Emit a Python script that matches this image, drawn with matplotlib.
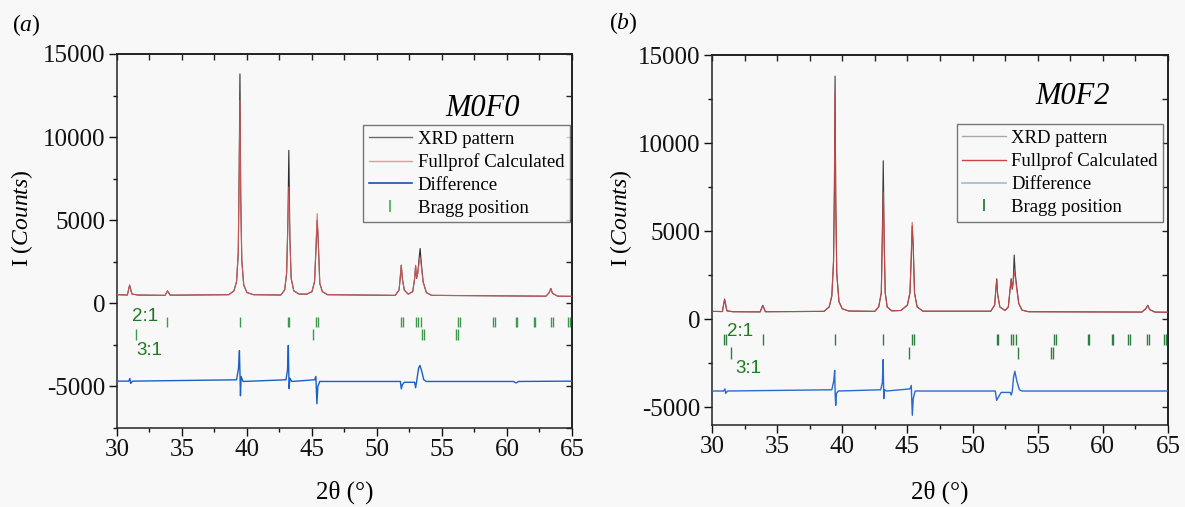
import matplotlib
matplotlib.use('Agg')
import matplotlib.pyplot as plt
from matplotlib.ticker import MultipleLocator, NullFormatter
from matplotlib.lines import Line2D

plt.rcParams['font.family'] = ['Liberation Serif', 'DejaVu Serif']
plt.rcParams['mathtext.fontset'] = 'custom'
plt.rcParams['mathtext.rm'] = 'Liberation Serif'
plt.rcParams['mathtext.it'] = 'Liberation Serif:italic'
plt.rcParams['axes.unicode_minus'] = False

# ---------------- data: panel (a) M0F0 ----------------
a_obs_x = [30.0, 30.8, 30.97, 31.15, 31.6, 33.7, 33.89, 34.1, 38.6, 39.0, 39.2, 39.33, 39.40,
           39.46, 39.52, 39.6, 39.75, 40.0, 40.5, 42.6, 42.9, 43.05, 43.15, 43.22, 43.3, 43.4,
           43.6, 44.0, 44.6, 45.0, 45.2, 45.32, 45.40, 45.48, 45.6, 45.8, 46.2, 51.4, 51.7,
           51.82, 51.87, 51.95, 52.1, 52.4, 52.75, 52.9, 52.97, 53.05, 53.15, 53.25, 53.32,
           53.4, 53.55, 53.8, 54.2, 63.0, 63.25, 63.37, 63.5, 63.9, 65.0]
a_obs_y = [520, 500, 1100, 560, 500, 480, 750, 490, 520, 750, 1300, 3000, 8000,
           13800, 6500, 2600, 1100, 650, 520, 500, 800, 1800, 5000, 9200, 4000, 1500,
           750, 560, 550, 700, 1300, 3500, 5000, 3800, 1200, 700, 520, 480, 800,
           1800, 2300, 1500, 800, 550, 700, 1500, 2250, 1500, 1900, 2800, 3300,
           2500, 1300, 650, 480, 430, 650, 900, 600, 430, 420]
a_calc_x = a_obs_x
a_calc_y = [520, 500, 1080, 560, 500, 480, 740, 490, 520, 760, 1350, 3100, 7900,
            12200, 6300, 2600, 1100, 650, 520, 500, 820, 1850, 4800, 7000, 3900, 1500,
            760, 560, 550, 720, 1350, 3700, 5400, 3700, 1200, 700, 520, 480, 820,
            1900, 2250, 1450, 800, 550, 720, 1550, 2300, 1550, 1850, 2500, 2700,
            2300, 1250, 650, 480, 430, 660, 880, 600, 430, 420]
a_diff_x = [30.0, 30.9, 31.0, 31.05, 31.2, 39.2, 39.35, 39.42, 39.46, 39.5, 39.55, 39.7,
            43.0, 43.12, 43.18, 43.24, 43.3, 43.45, 45.2, 45.3, 45.38, 45.45, 45.6, 51.8,
            51.87, 51.95, 52.1, 52.9, 52.97, 53.05, 53.2, 53.3, 53.45, 53.6, 53.8, 60.5,
            60.7, 60.9, 65.0]
a_diff_y = [-4680, -4680, -4520, -4820, -4680, -4600, -3900, -2850, -4200, -5560, -4400, -4700,
            -4600, -4000, -2530, -5120, -4500, -4700, -4600, -4400, -6040, -5000, -4700, -4700,
            -5140, -4900, -4750, -4750, -5080, -4700, -3900, -3735, -4100, -4600, -4700, -4700,
            -4790, -4700, -4680]
a_bragg_21 = [33.87, 39.46, 43.12, 43.26, 45.34, 45.46, 51.88, 52.0, 52.98, 53.15, 53.38,
              56.26, 56.42, 58.93, 59.04, 60.68, 60.77, 62.06, 62.15, 63.37, 63.52, 64.72, 64.86]
a_bragg_31 = [31.45, 45.1, 53.48, 53.63, 56.04, 56.2]

# ---------------- data: panel (b) M0F2 ----------------
b_obs_x = [30.0, 30.8, 30.97, 31.15, 31.6, 33.7, 33.9, 34.1, 38.6, 39.0, 39.2, 39.33, 39.40,
           39.45, 39.5, 39.58, 39.75, 40.0, 40.5, 42.5, 42.8, 43.0, 43.08, 43.15, 43.22, 43.3,
           43.45, 43.8, 44.5, 45.0, 45.2, 45.3, 45.37, 45.45, 45.55, 45.75, 46.2, 51.4, 51.7,
           51.8, 51.86, 51.93, 52.1, 52.5, 52.75, 52.9, 52.97, 53.05, 53.12, 53.2, 53.28,
           53.4, 53.55, 53.8, 54.3, 63.0, 63.3, 63.45, 63.6, 64.0, 65.0]
b_obs_y = [450, 440, 1150, 480, 430, 420, 800, 430, 450, 700, 1300, 3200, 7500,
           13800, 7000, 2600, 1000, 600, 470, 450, 700, 1500, 4900, 9000, 4500, 1500,
           700, 480, 500, 800, 1500, 3500, 5300, 4200, 1500, 700, 460, 460, 800,
           1800, 2300, 1400, 700, 500, 700, 1800, 2300, 1700, 2100, 3650, 2600,
           1800, 900, 520, 430, 410, 600, 800, 550, 410, 400]
b_calc_x = b_obs_x
b_calc_y = [450, 440, 1100, 480, 430, 420, 780, 430, 450, 720, 1350, 3300, 7600,
            12900, 6800, 2600, 1000, 600, 470, 450, 720, 1550, 4700, 7230, 4300, 1500,
            700, 480, 500, 820, 1550, 3700, 5500, 4000, 1450, 700, 460, 460, 820,
            1750, 2200, 1400, 700, 500, 720, 1850, 2300, 1750, 2050, 2700, 2400,
            1700, 880, 520, 430, 410, 610, 780, 550, 410, 400]
b_diff_x = [30.0, 30.9, 31.0, 31.05, 31.2, 39.2, 39.35, 39.42, 39.46, 39.5, 39.56, 39.7,
            42.95, 43.08, 43.14, 43.19, 43.25, 43.4, 45.2, 45.3, 45.38, 45.45, 45.6, 51.75,
            51.85, 52.0, 52.2, 52.9, 52.97, 53.05, 53.15, 53.25, 53.4, 53.6, 53.8, 65.0]
b_diff_y = [-4070, -4070, -3950, -4200, -4070, -4000, -3500, -2900, -4300, -4885, -4200, -4070,
            -4000, -3600, -2290, -4500, -4000, -4070, -3950, -3760, -5450, -4500, -4070, -4070,
            -4600, -4400, -4150, -4150, -4300, -4100, -3300, -2950, -3500, -4000, -4070, -4070]
b_bragg_21 = [30.92, 31.05, 33.9, 39.45, 43.14, 45.39, 45.5, 51.9, 51.98, 52.98, 53.1, 53.3,
              56.22, 56.38, 58.84, 58.97, 60.72, 60.82, 61.97, 62.08, 63.42, 63.58, 64.72, 64.83]
b_bragg_31 = [31.44, 45.15, 53.51, 56.05, 56.17]

legend_labels = ['XRD pattern', 'Fullprof Calculated', 'Difference', 'Bragg position']
x_ticks = [30, 35, 40, 45, 50, 55, 60, 65]
a_y_ticks = [-5000, 0, 5000, 10000, 15000]
b_y_ticks = [-5000, 0, 5000, 10000, 15000]

BG = '#f8f8f8'
fig = plt.figure(figsize=(11.85, 5.07), dpi=100, facecolor=BG)
ax_a = fig.add_axes([0.0987, 0.1558, 0.3840, 0.7377])
ax_b = fig.add_axes([0.6008, 0.1617, 0.3848, 0.7298])


def panel(ax, ox, oy, cx, cy, dx, dy, br21, br31, ylim, yticks, title, title_xy,
          cols, legcols, lab21, lab31, ylab_x, xlab_y, leg_anchor):
    ax.set_facecolor('none')
    ax.plot(ox, oy, color=cols[0], lw=0.8, zorder=3)
    ax.plot(cx, cy, color=cols[1], lw=0.8, alpha=0.85, zorder=4)
    ax.plot(dx, dy, color=cols[2], lw=1.0, zorder=3)
    ax.vlines(br21, -1450, -850, color=cols[3], lw=1.0, zorder=3)
    ax.vlines(br31, -2230, -1570, color=cols[3], lw=1.0, zorder=3)
    ax.text(lab21[0], lab21[1], '2:1', family='Liberation Sans', fontsize=13.5,
            color='#1f7a1f', ha='center', va='center')
    ax.text(lab31[0], lab31[1], '3:1', family='Liberation Sans', fontsize=13.5,
            color='#1f7a1f', ha='center', va='center')
    ax.set_xlim(30, 65)
    ax.set_ylim(*ylim)
    ax.set_xticks(x_ticks)
    ax.set_yticks(yticks)
    ax.xaxis.set_minor_locator(MultipleLocator(2.5))
    ax.yaxis.set_minor_locator(MultipleLocator(2500))
    ax.tick_params(which='both', direction='out', labelsize=18, colors='#111111',
                   top=False, right=False, pad=2)
    ax.tick_params(which='major', length=6, width=1.0)
    ax.tick_params(which='minor', length=3, width=1.0)
    for s in ax.spines.values():
        s.set_linewidth(1.1)
        s.set_color('#222222')
    secx = ax.secondary_xaxis('top')
    secx.set_xticks(x_ticks)
    secx.xaxis.set_minor_locator(MultipleLocator(2.5))
    secx.xaxis.set_major_formatter(NullFormatter())
    secx.tick_params(which='both', direction='in', length=4.5, width=1.0, colors='#222222')
    secx.spines['top'].set_linewidth(1.1)
    secy = ax.secondary_yaxis('right')
    secy.set_yticks(yticks)
    secy.yaxis.set_minor_locator(MultipleLocator(2500))
    secy.yaxis.set_major_formatter(NullFormatter())
    secy.tick_params(which='both', direction='in', length=4.5, width=1.0, colors='#222222')
    secy.spines['right'].set_linewidth(1.1)

    ax.set_xlabel('2θ (°)', fontsize=18)
    ax.xaxis.set_label_coords(0.5, xlab_y)
    ax.set_ylabel(r'I ($\mathit{Counts}$)', fontsize=17)
    ax.yaxis.set_label_coords(ylab_x, 0.56)
    ax.text(title_xy[0], title_xy[1], title, transform=ax.transAxes, fontsize=22,
            style='italic', ha='center', va='baseline')

    handles = [Line2D([], [], color=legcols[0], lw=1.0),
               Line2D([], [], color=legcols[1], lw=1.0),
               Line2D([], [], color=legcols[2], lw=1.2),
               Line2D([], [], color=legcols[3], marker='|', linestyle='None',
                      markersize=8, markeredgewidth=1.3)]
    leg = ax.legend(handles, legend_labels, loc='upper left', bbox_to_anchor=leg_anchor,
                    fontsize=13.5, frameon=True, fancybox=False, borderaxespad=0,
                    borderpad=0.3, labelspacing=0.3, handlelength=2.3, handletextpad=0.3)
    fr = leg.get_frame()
    fr.set_edgecolor('#555555')
    fr.set_linewidth(1.0)
    fr.set_facecolor(BG)


panel(ax_a, a_obs_x, a_obs_y, a_calc_x, a_calc_y, a_diff_x, a_diff_y, a_bragg_21, a_bragg_31,
      (-7500, 15000), a_y_ticks, 'M0F0', (0.804, 0.834),
      ['#2e2e2e', '#e35d5d', '#1a5fc4', '#3c9a4c'],
      ['#6a6a6a', '#f09494', '#1f4fa6', '#55b065'],
      (32.2, -780), (32.46, -2830), -0.181, -0.14, (0.541, 0.810))
panel(ax_b, b_obs_x, b_obs_y, b_calc_x, b_calc_y, b_diff_x, b_diff_y, b_bragg_21, b_bragg_31,
      (-6000, 15000), b_y_ticks, 'M0F2', (0.79, 0.867),
      ['#3a3a3a', '#d84848', '#2a6ad0', '#2e8040'],
      ['#a8a8a8', '#cc4444', '#a0b8dc', '#2e7a3a'],
      (32.14, -710), (32.76, -2790), -0.170, -0.15, (0.537, 0.813))

fig.text(0.010, 0.951, r'($\mathit{a}$)', fontsize=17, va='center', ha='left')
fig.text(0.514, 0.955, r'($\mathit{b}$)', fontsize=17, va='center', ha='left')

fig.savefig('out.png', dpi=100, facecolor=BG)
